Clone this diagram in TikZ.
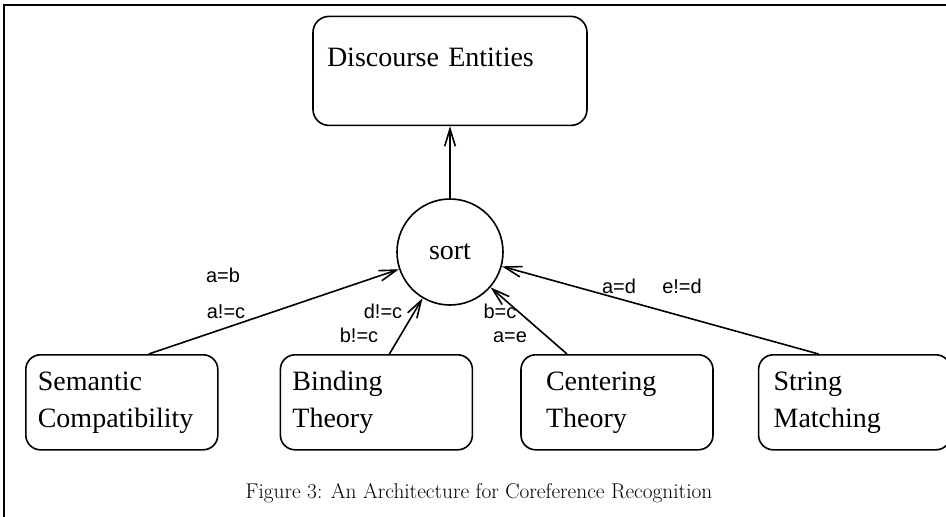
\documentclass[tikz,border=0pt]{standalone}
\usepackage{fontspec}
\newfontfamily\boxfont{Liberation Serif}
\newfontfamily\labfont{Liberation Sans}
\usetikzlibrary{arrows.meta,positioning}

\begin{document}
\begin{tikzpicture}[>={Straight Barb[length=13pt,width=8pt]},line width=1.2pt,node distance=45pt]
  \tikzstyle{proc}=[draw,rounded corners=11pt,minimum width=144pt,minimum height=71.25pt,inner xsep=9pt,text width=126pt,align=left,font=\boxfont\fontsize{21}{27.75}\selectfont]
  \tikzstyle{cond}=[font=\labfont\fontsize{15}{18}\selectfont,inner sep=0pt,anchor=base]
  \useasboundingbox (0,0) rectangle (709.5pt,-387.75pt);
  \draw (3pt,-387.75pt) -- (3pt,-3.75pt) -- (709.5pt,-3.75pt);
  \node[draw,circle,minimum size=79.5pt,font=\boxfont\fontsize{21}{25}\selectfont] (sort) at (337.5pt,-189pt) {sort};
  \node[proc,above=54pt of sort,minimum width=205.5pt,minimum height=81.75pt,text width=184.5pt,inner xsep=10.5pt,text height=14pt,text depth=21pt,rounded corners=12pt] (ent) {Discourse Entities};
  \node[proc,anchor=north west] (sem) at (18.75pt,-265.5pt) {Semantic\\Compatibility};
  \node[proc,right=45.75pt of sem] (bind) {Binding\\Theory};
  \node[proc,right=35.25pt of bind,inner xsep=18.75pt,text width=106.5pt] (cent) {Centering\\Theory};
  \node[proc,right=33pt of cent,inner xsep=11.25pt,text width=121.5pt] (str) {String\\Matching};
  \draw[->] (sort) -- (ent);
  \draw[->] ([xshift=20.25pt]sem.north) -- (sort);
  \draw[->] ([xshift=9.75pt]bind.north) -- (sort);
  \draw[->] ([xshift=-37.5pt]cent.north) -- (sort);
  \draw[->] ([xshift=-27pt]str.north) -- (sort);
  \node[cond] (ab) at (167.25pt,-211.5pt) {a=b};
  \node[cond] (anc) at (169.5pt,-238.5pt) {a!=c};
  \node[cond] (dnc) at (287.25pt,-238.5pt) {d!=c};
  \node[cond] (bnc) at (269.25pt,-256.5pt) {b!=c};
  \node[cond] (bc) at (375pt,-238.5pt) {b=c};
  \node[cond] (ae) at (382.5pt,-256.5pt) {a=e};
  \node[cond] (ad) at (464.25pt,-219.75pt) {a=d};
  \node[cond] (ned) at (511.5pt,-219.75pt) {e!=d};
  \node[font=\fontsize{16}{19}\selectfont,anchor=base] (cap) at (359.25pt,-373.5pt) {Figure 3: An Architecture for Coreference Recognition};
\end{tikzpicture}
\end{document}
